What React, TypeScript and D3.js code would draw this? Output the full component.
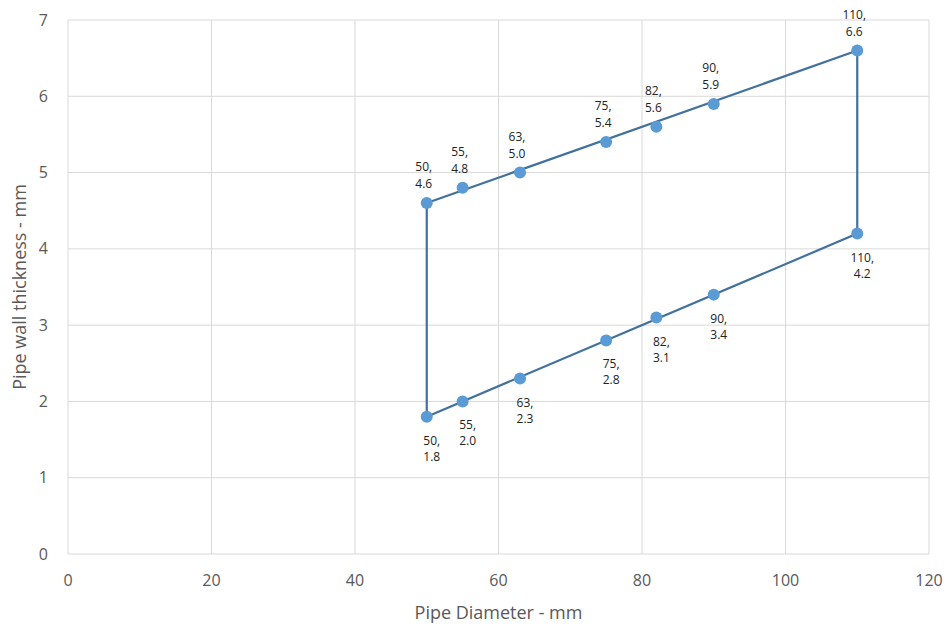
import React from "react";
import * as d3 from "d3";

const upperX = [50, 55, 63, 75, 82, 90, 110];
const upperY = [4.6, 4.8, 5.0, 5.4, 5.6, 5.9, 6.6];
const lowerX = [50, 55, 63, 75, 82, 90, 110];
const lowerY = [1.8, 2.0, 2.3, 2.8, 3.1, 3.4, 4.2];
const outlineX = [50, 50, 110, 110, 50];
const outlineY = [1.8, 4.6, 6.6, 4.2, 1.8];
const xTicks = [0, 20, 40, 60, 80, 100, 120];
const yTicks = [0, 1, 2, 3, 4, 5, 6, 7];

const W = 947, H = 628;
const left = 68, right = 929, top = 20, bottom = 554;
const font = "'Open Sans', 'Liberation Sans', sans-serif";

export default function App() {
  const x = d3.scaleLinear().domain([0, 120]).range([left, right]);
  const y = d3.scaleLinear().domain([0, 7]).range([bottom, top]);
  const line = d3.line<[number, number]>().x(d => x(d[0])).y(d => y(d[1]));
  const outline: [number, number][] = outlineX.map((v, i) => [v, outlineY[i]]);
  const fmt = (v: number) => v.toFixed(1);
  return (
    <svg width={W} height={H} style={{ position: "absolute", left: 0, top: 0, background: "#fff" }}>
      {xTicks.map(t => (
        <line key={"gx" + t} x1={x(t)} x2={x(t)} y1={top} y2={bottom} stroke="#d9d9d9" strokeWidth={1} />
      ))}
      {yTicks.map(t => (
        <line key={"gy" + t} x1={left} x2={right} y1={y(t)} y2={y(t)} stroke="#d9d9d9" strokeWidth={1} />
      ))}
      {yTicks.map(t => (
        <text key={"ty" + t} x={48} y={y(t)} dy="0.35em" textAnchor="end" fontFamily={font} fontSize={16} fill="#595959">{t}</text>
      ))}
      {xTicks.map(t => (
        <text key={"tx" + t} x={x(t)} y={bottom + 32} textAnchor="middle" fontFamily={font} fontSize={16} fill="#595959">{t}</text>
      ))}
      <path d={line(outline) || ""} fill="none" stroke="#41719c" strokeWidth={2.2} />
      {upperX.map((v, i) => (
        <g key={"u" + i}>
          <circle cx={x(v)} cy={y(upperY[i])} r={6} fill="#5b9bd5" />
          <text x={x(v) - 3} y={y(upperY[i]) - 32} textAnchor="middle" fontFamily={font} fontSize={12} fill="#222">{v + ","}</text>
          <text x={x(v) - 3} y={y(upperY[i]) - 15} textAnchor="middle" fontFamily={font} fontSize={12} fill="#222">{fmt(upperY[i])}</text>
        </g>
      ))}
      {lowerX.map((v, i) => (
        <g key={"l" + i}>
          <circle cx={x(v)} cy={y(lowerY[i])} r={6} fill="#5b9bd5" />
          <text x={x(v) + 5} y={y(lowerY[i]) + 28} textAnchor="middle" fontFamily={font} fontSize={12} fill="#222">{v + ","}</text>
          <text x={x(v) + 5} y={y(lowerY[i]) + 44} textAnchor="middle" fontFamily={font} fontSize={12} fill="#222">{fmt(lowerY[i])}</text>
        </g>
      ))}
      <text x={(left + right) / 2} y={619} textAnchor="middle" fontFamily={font} fontSize={18} fill="#595959">Pipe Diameter - mm</text>
      <text transform={`translate(26, ${(top + bottom) / 2}) rotate(-90)`} textAnchor="middle" fontFamily={font} fontSize={18} fill="#595959">Pipe wall thickness - mm</text>
    </svg>
  );
}
